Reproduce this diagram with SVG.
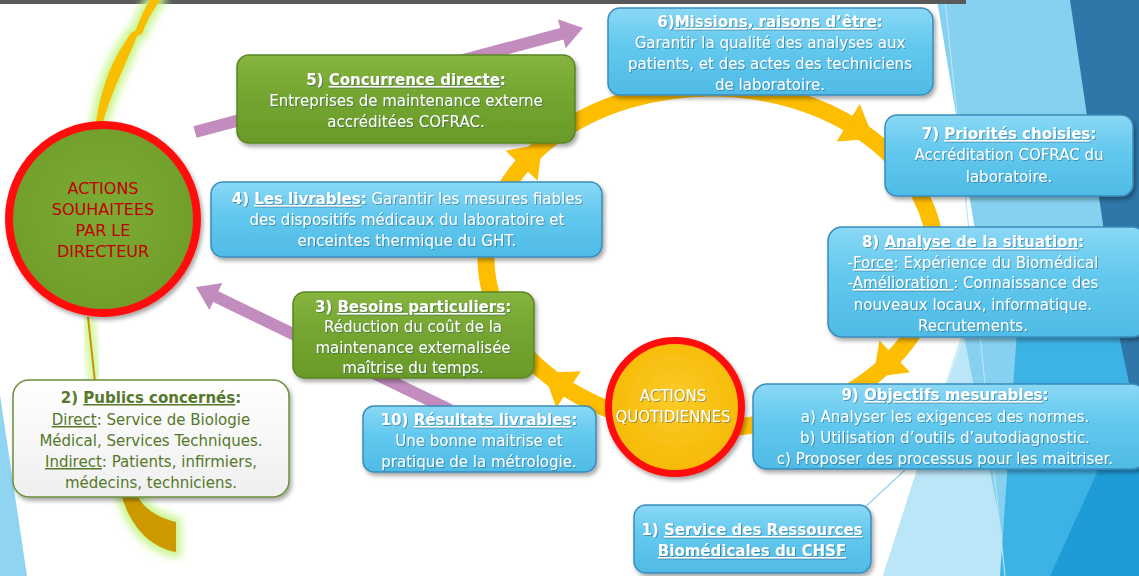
<svg xmlns="http://www.w3.org/2000/svg" width="1139" height="576" viewBox="0 0 1139 576">
<style>
.t{font-family:"DejaVu Sans","Liberation Sans",sans-serif;font-size:15px;text-anchor:middle;fill:#ffffff}
.h{font-weight:bold}
.u{text-decoration:underline}
.g{fill:#55782a}
.blue{fill:url(#gBlue);stroke:#3a8cbc;stroke-width:1.5}
.green{fill:url(#gGreen);stroke:#5a8523;stroke-width:1.5}
.ring{fill:none;stroke:#fdbd00;stroke-width:17}
.ah{fill:#fdbd00}
.purple{fill:#c28dbe}
</style>
<defs>
<linearGradient id="gBlue" x1="0" y1="0" x2="0" y2="1">
<stop offset="0" stop-color="#8ad8f5"/>
<stop offset="0.45" stop-color="#62c8ee"/>
<stop offset="1" stop-color="#4fbbe6"/>
</linearGradient>
<linearGradient id="gGreen" x1="0" y1="0" x2="0" y2="1">
<stop offset="0" stop-color="#85b53e"/>
<stop offset="0.5" stop-color="#74a430"/>
<stop offset="1" stop-color="#6a9a28"/>
</linearGradient>
<linearGradient id="gWhite" x1="0" y1="0" x2="0" y2="1">
<stop offset="0" stop-color="#ffffff"/>
<stop offset="1" stop-color="#efefef"/>
</linearGradient>
<radialGradient id="gYellow" cx="0.5" cy="0.45" r="0.6">
<stop offset="0" stop-color="#fccb2a"/>
<stop offset="1" stop-color="#f5b800"/>
</radialGradient>
<radialGradient id="gGreenC" cx="0.5" cy="0.45" r="0.6">
<stop offset="0" stop-color="#7cab33"/>
<stop offset="1" stop-color="#6f9c2a"/>
</radialGradient>
<filter id="sh" x="-10%" y="-10%" width="125%" height="130%">
<feDropShadow dx="2" dy="3" stdDeviation="2" flood-color="#000" flood-opacity="0.35"/>
</filter>
<filter id="ts" x="-5%" y="-20%" width="110%" height="150%">
<feDropShadow dx="1" dy="1" stdDeviation="0.6" flood-color="#1a4a66" flood-opacity="0.45"/>
</filter>
<filter id="glow" x="-50%" y="-50%" width="200%" height="200%">
<feGaussianBlur stdDeviation="4"/>
</filter>
</defs>

<g id="background">
<rect x="0" y="0" width="1139" height="576" fill="#ffffff"/>
<polygon points="937,0 1139,0 1139,576 883,576 917,470 963,340 975,230" fill="#86d1ef"/>
<polygon points="963,330 1010,576 883,576 917,470" fill="#c4eaf8" opacity="0.85"/>
<polygon points="1139,240 1139,576 1000,576 1017,330" fill="#3db3e5"/>
<polygon points="1139,380 1139,576 1050,576" fill="#1f9cd7"/>
<polygon points="1070,0 1139,0 1139,430 1120,340" fill="#2e77a8"/>
<line x1="945" y1="0" x2="1005" y2="576" stroke="#b6e4f6" stroke-width="1.2"/>
<line x1="905" y1="470" x2="862" y2="510" stroke="#8fd3f0" stroke-width="1.2"/>
<polygon points="0,395 0,576 27,576" fill="#8fd4f1"/>
<rect x="0" y="0" width="966" height="4" fill="#595959"/>
</g>

<g id="connectors">
<g id="deco-arcs">
<path d="M96,122 C100,95 108,70 120,50 L131,33 L136,30 C140,18 145,8 150,0 L160,0 C152,12 146,22 142,34 L137,36 C128,60 112,90 103,122 Z" fill="#c6f58a" stroke="#c6f58a" stroke-width="10" filter="url(#glow)"/>
<path d="M96,122 C100,95 108,70 120,50 L131,33 L136,30 C140,18 145,8 150,0 L160,0 C152,12 146,22 142,34 L137,36 C128,60 112,90 103,122 Z" fill="#fbbd00"/>
<path d="M88,317 L95,382" stroke="#c6f58a" stroke-width="10" filter="url(#glow)"/>
<path d="M88,317 L95,382" stroke="#c99400" stroke-width="2"/>
<path d="M122,497 C130,525 150,548 176,552 L176,522 C160,518 145,510 138,497 Z" fill="#c6f58a" stroke="#c6f58a" stroke-width="10" filter="url(#glow)"/>
<path d="M122,497 C130,525 150,548 176,552 L176,522 C160,518 145,510 138,497 Z" fill="#cc9a00"/>
</g>
<polygon class="purple" points="193.4,126.2 560.2,27.9 557.9,19.2 583,28 565.7,48.2 563.4,39.5 196.6,137.8"/>
<polygon class="purple" points="452.6,404.6 218.4,291.2 222.3,283.1 196,287 209.3,310.1 213.2,302 447.4,415.4"/>
<ellipse class="ring" cx="711" cy="258" rx="225" ry="170"/>
<polygon class="ah" points="22,0 -8,-22 -8,22" transform="translate(527,160) rotate(-47)"/>
<polygon class="ah" points="22,0 -8,-22 -8,22" transform="translate(855,127) rotate(32)"/>
<polygon class="ah" points="22,0 -8,-22 -8,22" transform="translate(889,362) rotate(136)"/>
<polygon class="ah" points="22,0 -8,-22 -8,22" transform="translate(562,385) rotate(-146)"/>
</g>

<g id="node-directeur">
<circle cx="103" cy="219" r="94" fill="url(#gGreenC)" stroke="#ff1111" stroke-width="8" filter="url(#sh)"/>
<text class="t" style="fill:#c00000;font-size:16px" x="103" y="194">ACTIONS</text>
<text class="t" style="fill:#c00000;font-size:16px" x="103" y="215">SOUHAITEES</text>
<text class="t" style="fill:#c00000;font-size:16px" x="103" y="236">PAR LE</text>
<text class="t" style="fill:#c00000;font-size:16px" x="103" y="257">DIRECTEUR</text>
</g>

<g id="node-quotidiennes">
<circle cx="675" cy="407" r="66.5" fill="url(#gYellow)" stroke="#ff1111" stroke-width="7" filter="url(#sh)"/>
<text class="t" filter="url(#ts)" x="673" y="401">ACTIONS</text>
<text class="t" filter="url(#ts)" x="673" y="422">QUOTIDIENNES</text>
</g>

<g id="node-5">
<rect class="green" x="237" y="55" width="338" height="88" rx="12" filter="url(#sh)"/>
<g filter="url(#ts)">
<text class="t h" x="406" y="85">5) <tspan class="u">Concurrence directe</tspan>:</text>
<text class="t" x="406" y="106">Entreprises de maintenance externe</text>
<text class="t" x="406" y="127">accréditées COFRAC.</text>
</g>
</g>

<g id="node-6">
<rect class="blue" x="608" y="8" width="325" height="87" rx="12" filter="url(#sh)"/>
<g filter="url(#ts)">
<text class="t h" x="770" y="27">6)<tspan class="u">Missions, raisons d’être</tspan>:</text>
<text class="t" x="770" y="48">Garantir la qualité des analyses aux</text>
<text class="t" x="770" y="69">patients, et des actes des techniciens</text>
<text class="t" x="770" y="90">de laboratoire.</text>
</g>
</g>

<g id="node-7">
<rect class="blue" x="885" y="115" width="248" height="81" rx="12" filter="url(#sh)"/>
<g filter="url(#ts)">
<text class="t h" x="1009" y="139">7) <tspan class="u">Priorités choisies</tspan>:</text>
<text class="t" x="1009" y="160">Accréditation COFRAC du</text>
<text class="t" x="1009" y="182">laboratoire.</text>
</g>
</g>

<g id="node-8">
<rect class="blue" x="828" y="227" width="318" height="110" rx="14" filter="url(#sh)"/>
<g filter="url(#ts)">
<text class="t h" x="973" y="247">8) <tspan class="u">Analyse de la situation</tspan>:</text>
<text class="t" x="973" y="268">-<tspan class="u">Force</tspan>: Expérience du Biomédical</text>
<text class="t" x="973" y="288">-<tspan class="u">Amélioration </tspan>: Connaissance des</text>
<text class="t" x="973" y="310">nouveaux locaux, informatique.</text>
<text class="t" x="973" y="331">Recrutements.</text>
</g>
</g>

<g id="node-9">
<rect class="blue" x="753" y="384" width="393" height="85" rx="14" filter="url(#sh)"/>
<g filter="url(#ts)">
<text class="t h" x="945" y="400">9) <tspan class="u">Objectifs mesurables</tspan>:</text>
<text class="t" x="945" y="422">a) Analyser les exigences des normes.</text>
<text class="t" x="945" y="443">b) Utilisation d’outils d’autodiagnostic.</text>
<text class="t" x="945" y="464">c) Proposer des processus pour les maitriser.</text>
</g>
</g>

<g id="node-1">
<rect class="blue" x="634" y="505" width="237" height="68" rx="12" filter="url(#sh)"/>
<g filter="url(#ts)">
<text class="t h" x="752" y="535">1) <tspan class="u">Service des Ressources</tspan></text>
<text class="t h" x="752" y="556"><tspan class="u">Biomédicales du CHSF</tspan></text>
</g>
</g>

<g id="node-10">
<rect class="blue" x="363" y="406" width="233" height="66" rx="11" filter="url(#sh)"/>
<g filter="url(#ts)">
<text class="t h" x="479" y="425">10) <tspan class="u">Résultats livrables</tspan>:</text>
<text class="t" x="479" y="446">Une bonne maitrise et</text>
<text class="t" x="479" y="467">pratique de la métrologie.</text>
</g>
</g>

<g id="node-3">
<rect class="green" x="293" y="292" width="241" height="86" rx="12" filter="url(#sh)"/>
<g filter="url(#ts)">
<text class="t h" x="413" y="312">3) <tspan class="u">Besoins particuliers</tspan>:</text>
<text class="t" x="413" y="332">Réduction du coût de la</text>
<text class="t" x="413" y="353">maintenance externalisée</text>
<text class="t" x="413" y="373">maîtrise du temps.</text>
</g>
</g>

<g id="node-4">
<rect class="blue" x="211" y="182" width="391" height="75" rx="12" filter="url(#sh)"/>
<g filter="url(#ts)">
<text class="t" x="407" y="204"><tspan class="h">4) <tspan class="u">Les livrables</tspan>:</tspan> Garantir les mesures fiables</text>
<text class="t" x="407" y="225">des dispositifs médicaux du laboratoire et</text>
<text class="t" x="407" y="246">enceintes thermique du GHT.</text>
</g>
</g>

<g id="node-2">
<rect x="13" y="380" width="276" height="117" rx="16" fill="url(#gWhite)" stroke="#6b8e3a" stroke-width="1.5" filter="url(#sh)"/>
<text class="t g h" x="151" y="403">2)  <tspan class="u">Publics concernés</tspan>:</text>
<text class="t g" x="151" y="425"><tspan class="u">Direct</tspan>: Service de Biologie</text>
<text class="t g" x="151" y="446">Médical, Services Techniques.</text>
<text class="t g" x="151" y="467"><tspan class="u">Indirect</tspan>: Patients, infirmiers,</text>
<text class="t g" x="151" y="488">médecins, techniciens.</text>
</g>
</svg>
